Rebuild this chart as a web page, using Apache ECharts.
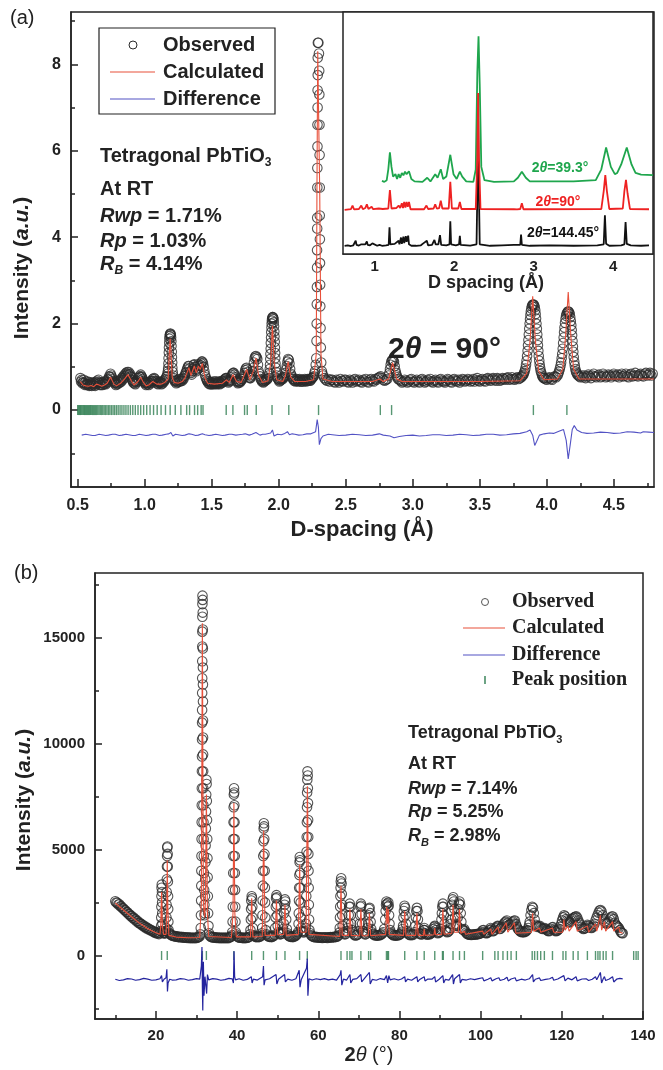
<!DOCTYPE html>
<html><head><meta charset="utf-8">
<script src="https://cdn.jsdelivr.net/npm/echarts@6.0.0/dist/echarts.min.js"></script>
<style>html,body{margin:0;padding:0;background:#fff}#c{width:663px;height:1070px}</style>
</head><body><div id="c"></div>
<script>
// ---------------- Panel (a): neutron, D-spacing ----------------
const obsA = [
[0.520,0.74],[0.525,0.66],[0.530,0.70],[0.535,0.62],[0.540,0.64],[0.545,0.70],[0.550,0.62],[0.555,0.58],[0.560,0.66],[0.565,0.60],
[0.570,0.58],[0.575,0.66],[0.580,0.60],[0.585,0.56],[0.590,0.64],[0.595,0.58],[0.600,0.62],[0.605,0.56],[0.610,0.60],[0.615,0.64],
[0.620,0.58],[0.625,0.62],[0.630,0.56],[0.635,0.64],[0.640,0.60],[0.645,0.68],[0.650,0.64],[0.655,0.70],[0.660,0.62],[0.665,0.58],
[0.670,0.64],[0.675,0.58],[0.680,0.62],[0.685,0.58],[0.690,0.64],[0.695,0.60],[0.700,0.66],[0.705,0.62],[0.710,0.60],[0.715,0.66],
[0.720,0.64],[0.725,0.72],[0.730,0.70],[0.735,0.78],[0.740,0.76],[0.745,0.84],[0.750,0.80],[0.755,0.76],[0.760,0.72],[0.765,0.68],
[0.770,0.66],[0.775,0.62],[0.780,0.64],[0.785,0.58],[0.790,0.62],[0.795,0.60],[0.800,0.66],[0.805,0.62],[0.810,0.68],[0.815,0.64],
[0.820,0.70],[0.825,0.66],[0.830,0.74],[0.835,0.70],[0.840,0.78],[0.845,0.74],[0.850,0.82],[0.855,0.78],[0.860,0.86],[0.865,0.82],
[0.870,0.88],[0.875,0.84],[0.880,0.88],[0.885,0.82],[0.890,0.84],[0.895,0.78],[0.900,0.76],[0.905,0.70],[0.910,0.68],[0.915,0.64],
[0.920,0.62],[0.925,0.66],[0.930,0.60],[0.935,0.64],[0.940,0.68],[0.945,0.66],[0.950,0.74],[0.955,0.70],[0.960,0.78],[0.965,0.76],
[0.970,0.82],[0.975,0.78],[0.980,0.76],[0.985,0.72],[0.990,0.68],[0.995,0.66],[1.000,0.62],[1.005,0.64],[1.010,0.58],[1.015,0.62],
[1.020,0.60],[1.025,0.64],[1.030,0.58],[1.035,0.62],[1.040,0.66],[1.045,0.62],[1.050,0.68],[1.055,0.66],[1.060,0.72],[1.065,0.68],
[1.070,0.74],[1.075,0.72],[1.080,0.68],[1.085,0.66],[1.090,0.62],[1.095,0.66],[1.100,0.60],[1.105,0.64],[1.110,0.62],[1.115,0.66],
[1.120,0.64],[1.125,0.60],[1.130,0.64],[1.135,0.62],[1.140,0.68],[1.145,0.66],[1.150,0.70],[1.155,0.72],[1.160,0.76],[1.165,0.78],
[1.170,0.84],
[1.173,0.90],[1.175,0.97],[1.177,1.08],[1.178,1.20],[1.180,1.33],[1.181,1.45],[1.183,1.56],[1.184,1.65],[1.186,1.71],[1.188,1.75],
[1.191,1.77],[1.193,1.76],[1.195,1.73],[1.197,1.68],[1.199,1.59],[1.200,1.48],[1.202,1.35],[1.203,1.22],[1.205,1.10],[1.206,0.98],
[1.209,0.88],[1.212,0.80],
[1.215,0.74],[1.220,0.70],[1.225,0.66],[1.230,0.68],[1.235,0.62],[1.240,0.66],[1.245,0.64],[1.250,0.70],[1.255,0.66],[1.260,0.72],
[1.265,0.66],[1.270,0.68],[1.275,0.72],[1.280,0.68],[1.285,0.74],[1.290,0.72],[1.295,0.78],[1.300,0.80],[1.305,0.86],[1.310,0.88],
[1.315,0.94],[1.320,0.98],[1.325,1.02],[1.330,1.02],[1.335,0.96],[1.340,0.90],[1.345,0.86],[1.350,0.82],[1.355,0.90],[1.360,0.96],
[1.365,1.04],[1.370,1.06],[1.375,1.00],[1.380,0.94],[1.385,0.90],[1.390,0.94],[1.395,1.02],[1.400,1.06],[1.405,1.02],[1.410,0.98],
[1.415,1.04],[1.420,1.08],[1.425,1.12],[1.430,1.12],[1.435,1.08],[1.440,1.00],[1.445,0.90],[1.450,0.82],[1.455,0.76],[1.460,0.72],
[1.465,0.68],[1.470,0.66],[1.475,0.62],[1.480,0.66],[1.485,0.60],[1.490,0.64],[1.495,0.60],[1.500,0.64],[1.505,0.60],[1.510,0.66],
[1.515,0.62],[1.520,0.60],[1.525,0.66],[1.530,0.62],[1.535,0.66],[1.540,0.60],[1.545,0.64],[1.550,0.62],[1.555,0.66],[1.560,0.60],
[1.565,0.64],[1.570,0.62],[1.575,0.68],[1.580,0.64],[1.585,0.68],[1.590,0.66],[1.595,0.70],[1.600,0.72],[1.605,0.74],[1.610,0.74],
[1.615,0.70],[1.620,0.68],[1.625,0.64],[1.630,0.66],[1.635,0.68],[1.640,0.70],[1.645,0.76],[1.650,0.80],[1.655,0.84],[1.660,0.86],
[1.665,0.86],[1.670,0.82],[1.675,0.76],[1.680,0.72],[1.685,0.68],[1.690,0.66],[1.695,0.62],[1.700,0.64],[1.705,0.66],[1.710,0.64],
[1.715,0.68],[1.720,0.68],[1.725,0.72],[1.730,0.72],[1.735,0.76],[1.740,0.80],[1.745,0.86],[1.750,0.92],[1.755,0.96],[1.760,0.98],
[1.765,0.94],[1.770,0.88],[1.775,0.82],[1.780,0.76],[1.785,0.74],[1.790,0.74],[1.795,0.78],[1.800,0.82],[1.805,0.90],[1.810,0.98],
[1.815,1.10],[1.820,1.20],[1.825,1.24],[1.830,1.25],[1.835,1.22],[1.840,1.18],[1.845,1.05],[1.850,0.90],[1.855,0.84],[1.860,0.78],
[1.865,0.72],[1.870,0.70],[1.875,0.66],[1.880,0.68],[1.885,0.64],[1.890,0.66],[1.895,0.70],[1.900,0.68],[1.905,0.72],[1.910,0.70],
[1.915,0.72],[1.920,0.74],[1.925,0.80],[1.930,0.86],
[1.933,0.95],[1.935,1.05],[1.937,1.18],[1.938,1.30],[1.940,1.42],[1.941,1.55],[1.943,1.68],[1.944,1.80],[1.946,1.91],[1.947,2.00],
[1.949,2.07],[1.951,2.12],[1.954,2.15],[1.956,2.15],[1.959,2.13],[1.961,2.10],[1.963,2.03],[1.965,1.94],[1.967,1.82],[1.968,1.70],
[1.970,1.58],[1.971,1.45],[1.973,1.32],[1.974,1.20],[1.976,1.08],[1.978,0.98],[1.981,0.88],
[1.985,0.80],[1.990,0.74],[1.995,0.72],[2.000,0.70],[2.005,0.66],[2.010,0.68],[2.015,0.72],[2.020,0.70],[2.025,0.74],[2.030,0.72],
[2.035,0.76],[2.040,0.76],[2.045,0.80],[2.050,0.86],[2.055,0.94],[2.060,1.02],[2.065,1.12],[2.070,1.18],[2.075,1.16],[2.080,1.08],
[2.085,0.95],[2.090,0.84],[2.095,0.80],[2.100,0.76],[2.105,0.72],[2.110,0.72],[2.115,0.68],[2.120,0.70],[2.125,0.66],[2.130,0.68],
[2.135,0.72],[2.140,0.70],[2.145,0.66],[2.150,0.68],[2.155,0.72],[2.160,0.70],[2.165,0.66],[2.170,0.66],[2.175,0.70],[2.180,0.70],
[2.185,0.66],[2.190,0.68],[2.195,0.72],[2.200,0.70],[2.205,0.66],[2.210,0.68],[2.215,0.72],[2.220,0.70],[2.225,0.68],[2.230,0.72],
[2.235,0.68],[2.240,0.70],[2.245,0.74],[2.250,0.74],[2.255,0.76],[2.260,0.78],[2.265,0.84],[2.270,0.90],
[2.276,1.05],[2.280,1.20],[2.282,1.60],[2.283,2.00],[2.284,2.45],[2.285,2.85],[2.286,3.30],[2.286,3.70],[2.287,4.20],[2.287,4.45],
[2.288,5.15],[2.288,5.60],[2.289,6.10],[2.289,6.60],[2.290,7.00],[2.290,7.40],[2.291,7.75],[2.291,8.15],[2.292,8.50],[2.296,8.50],
[2.300,8.25],[2.302,7.85],[2.303,7.30],[2.304,6.60],[2.305,5.90],[2.306,5.15],[2.306,4.50],[2.307,3.95],[2.308,3.40],[2.309,2.90],
[2.310,2.40],[2.312,1.90],[2.314,1.45],[2.317,1.10],[2.322,0.90],[2.326,0.84],
[2.33,0.80],[2.34,0.74],[2.35,0.70],[2.36,0.68],[2.37,0.72],[2.38,0.66],[2.39,0.70],[2.40,0.70],[2.41,0.66],[2.42,0.64],
[2.43,0.70],[2.44,0.68],[2.45,0.64],[2.46,0.72],[2.47,0.68],[2.48,0.66],[2.49,0.70],[2.50,0.70],[2.51,0.66],[2.52,0.64],
[2.53,0.70],[2.54,0.68],[2.55,0.64],[2.56,0.70],[2.57,0.72],[2.58,0.66],[2.59,0.68],[2.60,0.70],[2.61,0.66],[2.62,0.64],
[2.63,0.70],[2.64,0.68],[2.65,0.72],[2.66,0.66],[2.67,0.64],[2.68,0.70],[2.69,0.72],[2.70,0.68],[2.71,0.66],[2.72,0.72],
[2.73,0.70],[2.74,0.74],[2.75,0.76],[2.76,0.78],[2.77,0.74],[2.78,0.70],[2.79,0.68],[2.80,0.70],[2.81,0.72],
[2.820,0.80],[2.825,0.86],[2.830,0.95],[2.835,1.05],[2.840,1.12],[2.845,1.15],[2.850,1.16],[2.855,1.14],[2.860,1.12],[2.865,1.02],
[2.870,0.92],[2.875,0.86],[2.880,0.80],[2.885,0.76],[2.890,0.72],[2.900,0.70],
[2.91,0.68],[2.92,0.64],[2.93,0.66],[2.94,0.70],[2.95,0.68],[2.96,0.64],[2.97,0.66],[2.98,0.70],[2.99,0.72],[3.00,0.66],
[3.01,0.64],[3.02,0.68],[3.03,0.70],[3.04,0.66],[3.05,0.64],[3.06,0.70],[3.07,0.72],[3.08,0.68],[3.09,0.64],[3.10,0.66],
[3.11,0.70],[3.12,0.68],[3.13,0.72],[3.14,0.66],[3.15,0.64],[3.16,0.68],[3.17,0.70],[3.18,0.66],[3.19,0.64],[3.20,0.70],
[3.21,0.72],[3.22,0.68],[3.23,0.66],[3.24,0.64],[3.25,0.68],[3.26,0.72],[3.27,0.70],[3.28,0.66],[3.29,0.64],[3.30,0.70],
[3.31,0.72],[3.32,0.68],[3.33,0.66],[3.34,0.70],[3.35,0.64],[3.36,0.68],[3.37,0.72],[3.38,0.70],[3.39,0.66],[3.40,0.68],
[3.41,0.72],[3.42,0.70],[3.43,0.66],[3.44,0.68],[3.45,0.72],[3.46,0.66],[3.47,0.70],[3.48,0.74],[3.49,0.68],[3.50,0.66],
[3.51,0.70],[3.52,0.72],[3.53,0.68],[3.54,0.66],[3.55,0.72],[3.56,0.74],[3.57,0.70],[3.58,0.68],[3.59,0.72],[3.60,0.74],
[3.61,0.70],[3.62,0.68],[3.63,0.74],[3.64,0.72],[3.65,0.68],[3.66,0.70],[3.67,0.74],[3.68,0.72],[3.69,0.70],[3.70,0.74],
[3.71,0.76],[3.72,0.70],[3.73,0.72],[3.74,0.76],[3.75,0.72],[3.76,0.70],[3.77,0.74],[3.78,0.76],[3.79,0.72],[3.80,0.74],
[3.81,0.76],
[3.815,0.78],[3.820,0.80],[3.825,0.82],[3.830,0.86],[3.835,0.90],[3.840,0.96],[3.845,1.05],[3.849,1.14],[3.853,1.25],[3.857,1.37],
[3.860,1.50],[3.863,1.62],[3.866,1.75],[3.869,1.88],[3.872,2.00],[3.875,2.10],[3.878,2.20],[3.881,2.28],[3.885,2.35],[3.889,2.40],
[3.893,2.43],[3.897,2.44],[3.902,2.44],[3.906,2.42],[3.910,2.38],[3.914,2.31],[3.917,2.22],[3.920,2.12],[3.923,2.00],[3.926,1.88],
[3.929,1.75],[3.932,1.62],[3.934,1.50],[3.937,1.37],[3.940,1.25],[3.944,1.14],[3.947,1.05],[3.951,0.97],[3.955,0.90],[3.960,0.85],
[3.965,0.80],[3.970,0.77],[3.975,0.74],
[3.98,0.74],[3.99,0.72],[4.00,0.70],[4.01,0.74],[4.02,0.76],[4.03,0.72],[4.04,0.70],[4.05,0.76],[4.06,0.78],[4.07,0.76],
[4.08,0.80],
[4.085,0.84],[4.091,0.89],[4.097,0.95],[4.102,1.02],[4.107,1.10],[4.111,1.20],[4.115,1.30],[4.119,1.42],[4.122,1.55],[4.126,1.68],
[4.129,1.80],[4.132,1.91],[4.136,2.02],[4.140,2.11],[4.144,2.18],[4.148,2.23],[4.153,2.26],[4.158,2.28],[4.162,2.28],[4.167,2.26],
[4.171,2.22],[4.175,2.15],[4.179,2.06],[4.183,1.96],[4.186,1.85],[4.189,1.73],[4.192,1.60],[4.195,1.47],[4.198,1.35],[4.201,1.23],
[4.205,1.12],[4.209,1.03],[4.213,0.95],[4.218,0.89],[4.223,0.85],[4.229,0.82],[4.235,0.80],[4.242,0.78],[4.250,0.76],
[4.26,0.80],[4.27,0.76],[4.28,0.80],[4.29,0.74],[4.30,0.78],[4.31,0.82],[4.32,0.78],[4.33,0.74],[4.34,0.80],[4.35,0.84],
[4.36,0.78],[4.37,0.76],[4.38,0.80],[4.39,0.82],[4.40,0.76],[4.41,0.78],[4.42,0.84],[4.43,0.80],[4.44,0.76],[4.45,0.78],
[4.46,0.82],[4.47,0.80],[4.48,0.76],[4.49,0.80],[4.50,0.84],[4.51,0.80],[4.52,0.78],[4.53,0.82],[4.54,0.76],[4.55,0.80],
[4.56,0.84],[4.57,0.78],[4.58,0.80],[4.59,0.84],[4.60,0.78],[4.61,0.76],[4.62,0.82],[4.63,0.84],[4.64,0.78],[4.65,0.80],
[4.66,0.86],[4.67,0.80],[4.68,0.78],[4.69,0.82],[4.70,0.84],[4.71,0.80],[4.72,0.78],[4.73,0.84],[4.74,0.86],[4.75,0.80],
[4.76,0.82],[4.77,0.86],[4.78,0.80],[4.79,0.84]
];
const calcA = [
[0.52,0.66],[0.54,0.58],[0.56,0.56],[0.58,0.55],[0.60,0.57],[0.62,0.54],[0.64,0.60],[0.66,0.58],[0.68,0.55],[0.70,0.58],
[0.72,0.62],[0.745,0.76],[0.77,0.60],[0.79,0.56],[0.82,0.62],[0.85,0.72],[0.875,0.82],[0.90,0.68],[0.92,0.58],[0.95,0.66],
[0.97,0.76],[0.99,0.64],[1.01,0.56],[1.03,0.58],[1.06,0.66],[1.07,0.70],[1.09,0.60],[1.12,0.60],[1.15,0.64],[1.175,0.72],
[1.185,1.40],[1.19,1.65],[1.195,1.40],[1.205,0.76],[1.22,0.64],[1.25,0.62],[1.28,0.66],[1.30,0.74],[1.33,0.98],[1.345,0.80],
[1.37,1.02],[1.385,0.86],[1.40,1.02],[1.415,0.94],[1.43,1.08],[1.45,0.74],[1.47,0.62],[1.52,0.60],[1.58,0.62],[1.61,0.70],
[1.63,0.64],[1.66,0.82],[1.685,0.66],[1.72,0.64],[1.76,0.94],[1.785,0.70],[1.81,0.90],[1.83,1.20],[1.85,0.80],[1.88,0.64],
[1.92,0.68],[1.94,1.10],[1.953,1.95],[1.966,1.10],[1.985,0.70],[2.03,0.66],[2.05,0.80],[2.07,1.12],[2.09,0.76],[2.12,0.66],
[2.20,0.66],[2.26,0.70],[2.28,1.30],[2.285,5.0],[2.291,8.3],[2.300,8.3],[2.306,5.0],[2.315,1.30],[2.33,0.72],[2.40,0.66],
[2.70,0.66],[2.755,0.72],[2.78,0.66],[2.82,0.72],[2.85,1.10],[2.88,0.72],[2.92,0.66],[3.50,0.66],[3.80,0.68],[3.85,0.85],
[3.875,1.60],[3.895,2.63],[3.915,1.60],[3.94,0.90],[3.98,0.70],[4.08,0.72],[4.12,0.95],[4.14,1.70],[4.16,2.73],[4.18,1.70],
[4.20,0.95],[4.24,0.72],[4.80,0.72]
];
const diffA = [
[0.53,-0.58],[0.56,-0.56],[0.58,-0.57],[0.61,-0.59],[0.63,-0.59],[0.66,-0.56],[0.68,-0.57],[0.71,-0.59],[0.73,-0.58],[0.76,-0.56],
[0.78,-0.56],[0.81,-0.59],[0.83,-0.58],[0.86,-0.56],[0.88,-0.57],[0.91,-0.59],[0.93,-0.59],[0.96,-0.56],[0.98,-0.57],[1.01,-0.59],
[1.03,-0.58],[1.06,-0.56],[1.08,-0.56],[1.11,-0.59],[1.13,-0.58],[1.16,-0.56],[1.18,-0.55],[1.195,-0.52],[1.21,-0.60],[1.23,-0.56],
[1.25,-0.57],[1.28,-0.59],[1.30,-0.58],[1.33,-0.55],[1.35,-0.56],[1.38,-0.59],[1.40,-0.58],[1.43,-0.55],[1.45,-0.57],[1.48,-0.59],
[1.50,-0.58],[1.53,-0.56],[1.55,-0.57],[1.58,-0.59],[1.60,-0.58],[1.63,-0.56],[1.65,-0.56],[1.68,-0.58],[1.70,-0.57],[1.73,-0.56],
[1.75,-0.55],[1.78,-0.58],[1.80,-0.56],[1.83,-0.52],[1.86,-0.58],[1.88,-0.56],[1.90,-0.56],[1.94,-0.53],[1.953,-0.46],[1.965,-0.60],
[1.99,-0.56],[2.02,-0.57],[2.04,-0.55],[2.065,-0.50],[2.08,-0.57],[2.10,-0.55],[2.12,-0.56],[2.15,-0.58],[2.18,-0.57],[2.21,-0.55],
[2.24,-0.55],[2.275,-0.50],[2.287,-0.22],[2.296,-0.40],[2.303,-0.80],[2.315,-0.66],[2.33,-0.60],[2.37,-0.56],[2.40,-0.57],[2.45,-0.59],
[2.50,-0.58],[2.55,-0.56],[2.60,-0.57],[2.65,-0.59],[2.70,-0.58],[2.75,-0.55],[2.78,-0.58],[2.83,-0.60],[2.86,-0.64],[2.90,-0.61],
[2.95,-0.59],[3.00,-0.58],[3.05,-0.60],[3.10,-0.59],[3.15,-0.57],[3.20,-0.57],[3.25,-0.59],[3.30,-0.58],[3.35,-0.56],[3.40,-0.57],
[3.45,-0.59],[3.50,-0.58],[3.55,-0.56],[3.60,-0.56],[3.65,-0.58],[3.70,-0.57],[3.75,-0.55],[3.80,-0.54],[3.85,-0.50],[3.875,-0.46],
[3.895,-0.58],[3.91,-0.82],[3.925,-0.72],[3.945,-0.58],[3.98,-0.55],[4.02,-0.53],[4.05,-0.54],[4.10,-0.48],[4.125,-0.45],[4.145,-0.70],
[4.16,-1.13],[4.175,-0.80],[4.19,-0.45],[4.205,-0.36],[4.225,-0.46],[4.26,-0.52],[4.30,-0.54],[4.35,-0.53],[4.40,-0.51],[4.45,-0.52],
[4.50,-0.54],[4.55,-0.53],[4.60,-0.50],[4.65,-0.51],[4.70,-0.53],[4.72,-0.50],[4.76,-0.51],[4.80,-0.52]
];
const peaksA = [0.500,0.507,0.514,0.520,0.526,0.533,0.540,0.546,0.552,0.559,0.566,0.573,0.580,0.587,0.594,0.601,0.609,0.617,
0.625,0.633,0.641,0.650,0.659,0.668,0.677,0.687,0.697,0.707,0.718,0.729,0.740,0.752,0.764,0.776,0.789,0.802,0.816,0.830,0.845,
0.860,0.876,0.893,0.911,0.930,0.950,0.970,0.992,1.015,1.040,1.066,1.093,1.122,1.155,1.190,1.228,1.270,1.313,1.335,1.372,1.395,
1.421,1.435,1.608,1.658,1.745,1.765,1.832,1.950,2.075,2.297,2.758,2.842,3.900,4.150];
const xTicksA = [0.5,1.0,1.5,2.0,2.5,3.0,3.5,4.0,4.5];
const xMinorA = [0.75,1.25,1.75,2.25,2.75,3.25,3.75,4.25,4.75];
const yTicksA = [0,2,4,6,8];
const yMinorA = [-1,1,3,5,7,9];

// ---------------- Inset: three detector banks ----------------
const insetBlack = [
[0.62,0.34],[0.66,0.36],[0.70,0.33],[0.73,0.36],[0.75,0.42],[0.76,0.55],[0.77,0.38],[0.80,0.35],[0.83,0.40],[0.84,0.45],
[0.85,0.36],[0.88,0.40],[0.90,0.52],[0.91,0.38],[0.94,0.36],[0.97,0.44],[0.98,0.50],[0.99,0.36],[1.03,0.34],[1.06,0.38],
[1.09,0.34],[1.14,0.36],[1.175,0.38],[1.185,1.10],[1.195,0.40],[1.22,0.35],[1.25,0.42],[1.27,0.36],[1.30,0.55],[1.31,0.40],
[1.33,0.68],[1.34,0.42],[1.36,0.72],[1.37,0.45],[1.39,0.74],[1.40,0.50],[1.42,0.76],[1.43,0.40],[1.46,0.34],[1.52,0.34],
[1.58,0.36],[1.61,0.44],[1.62,0.36],[1.655,0.55],[1.67,0.36],[1.72,0.38],[1.75,0.58],[1.765,0.40],[1.80,0.40],[1.82,0.78],
[1.835,0.38],[1.90,0.36],[1.94,0.40],[1.95,1.35],[1.96,0.40],[2.02,0.36],[2.06,0.40],[2.07,0.75],[2.08,0.38],[2.20,0.35],
[2.28,0.40],[2.29,2.5],[2.30,5.5],[2.31,2.5],[2.32,0.40],[2.45,0.34],[2.60,0.36],[2.75,0.38],[2.76,0.45],[2.77,0.36],
[2.83,0.38],[2.84,0.80],[2.85,0.38],[2.95,0.34],[3.20,0.36],[3.50,0.34],[3.80,0.36],[3.88,0.40],[3.895,1.60],[3.91,0.42],
[3.95,0.34],[4.10,0.36],[4.14,0.40],[4.155,1.32],[4.17,0.42],[4.22,0.36],[4.35,0.34],[4.45,0.36]
];
const insetRed = [
[0.62,1.82],[0.70,1.85],[0.72,2.00],[0.74,1.84],[0.80,1.86],[0.83,2.00],[0.85,1.85],[0.88,1.90],[0.90,2.05],[0.92,1.86],
[0.96,1.95],[0.98,1.85],[1.05,1.88],[1.10,1.86],[1.17,1.88],[1.19,2.64],[1.21,1.88],[1.27,1.90],[1.30,2.00],[1.32,1.90],
[1.34,2.10],[1.355,1.90],[1.37,2.15],[1.385,1.92],[1.40,2.15],[1.415,1.95],[1.43,2.15],[1.45,1.85],[1.62,1.85],[1.65,2.00],
[1.67,1.86],[1.74,1.88],[1.76,2.05],[1.78,1.88],[1.81,1.90],[1.83,2.20],[1.85,1.88],[1.93,1.88],[1.95,2.98],[1.97,1.88],
[2.05,1.88],[2.07,2.15],[2.09,1.86],[2.27,1.86],[2.29,4.00],[2.30,6.65],[2.31,4.00],[2.33,1.86],[2.75,1.85],[2.77,1.90],
[2.79,1.84],[2.83,1.86],[2.85,2.10],[2.87,1.85],[3.85,1.86],[3.88,2.60],[3.90,3.26],[3.92,2.60],[3.95,1.86],[4.12,1.88],
[4.14,2.60],[4.16,3.06],[4.18,2.50],[4.21,1.86],[4.45,1.85]
];
const insetGreen = [
[1.09,3.02],[1.12,2.98],[1.15,3.05],[1.17,3.50],[1.19,4.20],[1.21,3.60],[1.23,3.20],[1.26,3.30],[1.28,3.10],[1.30,3.30],
[1.32,3.15],[1.34,3.35],[1.36,3.25],[1.38,3.40],[1.40,3.30],[1.43,3.42],[1.46,3.10],[1.50,3.00],[1.60,2.98],[1.66,3.15],
[1.70,3.00],[1.76,3.30],[1.79,3.15],[1.83,3.50],[1.86,3.10],[1.90,3.20],[1.95,4.10],[1.99,3.30],[2.03,3.10],[2.07,3.40],
[2.10,3.20],[2.15,3.00],[2.24,2.98],[2.27,3.50],[2.29,7.50],[2.305,9.00],[2.32,7.00],[2.34,3.60],[2.38,3.05],[2.50,2.98],
[2.75,3.00],[2.80,3.15],[2.85,3.40],[2.90,3.15],[2.95,3.00],[3.50,3.00],[3.78,3.05],[3.85,3.50],[3.91,4.40],[3.97,3.60],
[4.02,3.30],[4.05,3.35],[4.10,3.70],[4.17,4.40],[4.23,3.70],[4.28,3.35],[4.35,3.28],[4.50,3.26]
];
const xTicksIn = [1,2,3,4];
const xMinorIn = [1.5,2.5,3.5];

// ---------------- Panel (b): X-ray, 2theta ----------------
const obsB = [
[10.0,2560],[10.25,2500],[10.5,2490],[10.75,2410],[11.0,2420],[11.25,2330],[11.5,2320],[11.75,2240],[12.0,2220],[12.25,2150],
[12.5,2130],[12.75,2050],[13.0,2040],[13.25,1960],[13.5,1950],[13.75,1870],[14.0,1870],[14.25,1780],[14.5,1790],[14.75,1700],
[15.0,1710],[15.25,1620],[15.5,1630],[15.75,1540],[16.0,1550],[16.25,1480],[16.5,1480],[16.75,1410],[17.0,1420],[17.25,1340],
[17.5,1360],[17.75,1280],[18.0,1300],[18.25,1230],[18.5,1240],[18.75,1180],[19.0,1190],[19.25,1130],[19.5,1140],[19.75,1080],
[20.0,1100],[20.25,1040],[20.5,1070],[20.75,1010],[21.0,1060],[21.15,1150],
[21.3,1400],[21.32,1800],[21.35,2300],[21.37,2800],[21.40,3200],[21.45,3350],[21.5,3000],[21.53,2500],[21.56,2000],[21.6,1500],
[21.7,1150],[21.85,1080],[22.0,1040],[22.15,1070],[22.3,1050],[22.45,1150],
[22.55,1300],[22.6,1800],[22.63,2400],[22.66,3000],[22.7,3600],[22.73,4200],[22.76,4700],[22.8,5100],[22.85,5150],[22.9,4800],
[22.93,4200],[22.96,3500],[23.0,2800],[23.03,2200],[23.07,1600],[23.12,1200],
[23.25,1080],[23.5,1010],[23.75,970],[24.0,950],[24.25,920],[24.5,930],[24.75,900],[25.0,890],[25.25,910],[25.5,870],
[25.75,880],[26.0,860],[26.25,880],[26.5,850],[26.75,870],[27.0,840],[27.25,860],[27.5,850],[27.75,830],[28.0,860],
[28.25,840],[28.5,820],[28.75,850],[29.0,830],[29.25,840],[29.5,820],[29.75,850],[30.0,830],[30.25,850],[30.5,870],
[30.75,900],[30.95,1000],
[31.05,1300],[31.1,1900],[31.15,2600],[31.18,3300],[31.2,4000],[31.23,4700],[31.26,5500],[31.28,6300],[31.3,7100],[31.32,7900],
[31.34,8700],[31.36,9400],[31.37,10200],[31.38,11000],[31.39,11600],[31.40,12400],[31.41,13100],[31.42,13900],[31.43,14600],[31.44,15300],
[31.45,16000],[31.46,16600],[31.48,17000],[31.52,16800],[31.54,16200],[31.56,15400],[31.57,14500],[31.58,13600],[31.59,12800],[31.60,12000],
[31.61,11100],[31.62,10300],[31.63,9500],[31.65,8700],[31.67,7900],[31.70,7100],[31.73,6300],[31.76,5500],[31.8,4700],[31.85,3900],
[31.9,3100],[31.95,2400],[32.0,1900],[32.05,2000],[32.1,2800],[32.15,3600],[32.2,4400],[32.25,5200],[32.3,6000],[32.35,6800],
[32.4,7600],[32.45,8300],[32.5,8100],[32.55,7300],[32.6,6400],[32.65,5500],[32.7,4600],[32.75,3700],[32.8,2800],[32.87,2000],
[32.95,1400],[33.1,1050],
[33.25,940],[33.5,890],[33.75,870],[34.0,850],[34.25,870],[34.5,840],[34.75,860],[35.0,830],[35.25,850],[35.5,840],
[35.75,820],[36.0,850],[36.25,830],[36.5,840],[36.75,820],[37.0,850],[37.25,830],[37.5,840],[37.75,820],[38.0,850],
[38.25,860],[38.5,890],[38.7,960],
[38.8,1100],[38.9,1600],[38.95,2300],[39.0,3100],[39.05,3900],[39.08,4700],[39.1,5500],[39.13,6300],[39.16,7000],[39.2,7600],
[39.25,7900],[39.3,7700],[39.34,7100],[39.37,6300],[39.4,5500],[39.43,4700],[39.46,3900],[39.5,3100],[39.55,2300],[39.6,1600],
[39.7,1100],
[39.75,1000],[40.0,910],[40.25,870],[40.5,850],[40.75,840],[41.0,860],[41.25,830],[41.5,840],[41.75,820],[42.0,850],
[42.25,830],[42.5,840],[42.75,860],[43.0,880],[43.2,1000],
[43.3,1200],[43.4,1700],[43.45,2200],[43.5,2600],[43.6,2800],[43.7,2700],[43.75,2300],[43.8,1800],[43.9,1300],[44.1,950],
[44.25,920],[44.5,880],[44.75,870],[45.0,890],[45.25,870],[45.5,880],[45.75,910],[46.0,960],[46.1,1050],
[46.2,1300],[46.25,1900],[46.3,2600],[46.35,3300],[46.4,4000],[46.45,4700],[46.5,5400],[46.55,6000],[46.6,6250],[46.65,6100],
[46.7,5500],[46.75,4800],[46.8,4000],[46.85,3200],[46.9,2500],[46.95,1800],[47.05,1200],
[47.25,1000],[47.5,930],[47.75,900],[48.0,880],[48.25,890],[48.5,870],[48.75,900],[49.0,920],[49.2,980],
[49.4,1300],[49.5,1800],[49.55,2300],[49.6,2700],[49.7,2850],[49.8,2750],[49.85,2400],[49.9,1900],[50.0,1400],[50.2,1100],
[50.4,1050],[50.6,1000],[50.8,1020],[51.0,1050],[51.2,1120],[51.35,1250],
[51.5,1500],[51.6,2000],[51.7,2400],[51.8,2650],[51.9,2550],[52.0,2200],[52.1,1700],[52.25,1250],
[52.4,1050],[52.6,960],[52.8,920],[53.0,900],[53.25,880],[53.5,890],[53.75,870],[54.0,900],[54.25,910],[54.5,950],
[54.75,1000],[55.0,1100],
[55.15,1500],[55.2,2000],[55.25,2600],[55.3,3200],[55.35,3800],[55.4,4400],[55.45,4650],[55.5,4500],[55.55,3900],[55.6,3200],
[55.65,2500],[55.72,1800],[55.8,1300],[56.0,1150],[56.25,1100],[56.5,1100],[56.75,1150],[56.9,1300],
[56.95,1500],[57.0,2100],[57.05,2800],[57.08,3500],[57.1,4200],[57.13,4900],[57.16,5600],[57.2,6300],[57.23,7000],[57.26,7700],
[57.3,8300],[57.35,8700],[57.4,8500],[57.44,7900],[57.47,7200],[57.5,6400],[57.53,5600],[57.56,4800],[57.6,4000],[57.64,3200],
[57.68,2400],[57.74,1700],[57.82,1200],
[58.0,1050],[58.25,960],[58.5,920],[58.75,890],[59.0,870],[59.25,860],[59.5,880],[59.75,850],[60.0,860],[60.25,840],
[60.5,860],[60.75,850],[61.0,830],[61.25,860],[61.5,840],[61.75,860],[62.0,850],[62.25,830],[62.5,860],[62.75,850],
[63.0,870],[63.25,850],[63.5,860],[63.75,880],[64.0,860],[64.25,880],[64.5,890],[64.75,910],[65.0,960],[65.2,1080],
[65.3,1300],[65.35,1800],[65.4,2300],[65.45,2800],[65.5,3200],[65.55,3500],[65.65,3650],[65.75,3400],[65.8,2900],[65.85,2400],
[65.9,1900],[66.0,1400],[66.2,1100],[66.35,1050],[66.5,1000],[66.75,1020],[67.0,1150],[67.25,1300],
[67.4,1500],[67.5,1900],[67.6,2300],[67.75,2450],[67.9,2300],[68.0,1900],[68.1,1500],[68.3,1200],
[68.5,1100],[68.75,1000],[69.0,960],[69.25,950],[69.5,970],[69.75,1000],[70.0,1150],
[70.2,1500],[70.3,1900],[70.4,2300],[70.5,2450],[70.6,2350],[70.7,1950],[70.8,1500],[71.0,1150],
[71.25,1050],[71.5,1000],[71.75,1010],[72.0,1100],[72.15,1300],
[72.3,1500],[72.4,1900],[72.5,2200],[72.65,2250],[72.8,2000],[72.9,1600],[73.05,1250],
[73.25,1100],[73.5,1020],[73.75,980],[74.0,950],[74.25,960],[74.5,940],[74.75,960],[75.0,950],[75.25,980],[75.5,990],
[75.75,1040],[76.0,1100],[76.25,1250],
[76.5,1700],[76.6,2100],[76.7,2400],[76.8,2550],[76.95,2450],[77.1,2300],[77.25,2500],[77.35,2350],[77.45,1900],[77.55,1500],
[77.7,1200],[77.9,1080],[78.1,1010],[78.35,980],[78.6,950],[78.85,960],[79.1,940],[79.35,960],[79.6,950],[79.85,980],
[80.1,990],[80.35,1040],[80.6,1120],[80.8,1250],
[80.9,1400],[81.0,1800],[81.1,2100],[81.25,2350],[81.4,2250],[81.5,1900],[81.6,1500],[81.8,1150],
[82.0,1060],[82.25,1000],[82.5,980],[82.75,960],[83.0,990],[83.25,970],[83.5,1010],[83.75,1100],
[83.95,1400],[84.05,1800],[84.15,2100],[84.3,2250],[84.45,2100],[84.55,1700],[84.7,1300],[84.9,1050],
[85.1,1020],[85.35,990],[85.6,1010],[85.85,1080],[86.0,1200],[86.1,1300],[86.2,1200],[86.4,1050],[86.6,1000],[86.85,990],
[87.1,1010],[87.35,990],[87.6,1030],[87.85,1060],[88.1,1120],[88.35,1250],[88.55,1350],[88.7,1400],[88.85,1300],[89.0,1200],
[89.2,1100],[89.45,1050],[89.7,1080],[89.95,1120],[90.15,1250],
[90.35,1700],[90.45,2000],[90.55,2300],[90.7,2450],[90.85,2300],[90.95,1900],[91.1,1500],[91.3,1200],
[91.5,1150],[91.75,1100],[92.0,1120],[92.25,1180],[92.5,1300],[92.65,1500],
[92.75,1700],[92.85,2100],[92.95,2400],[93.1,2650],[93.25,2750],[93.4,2550],[93.55,2200],[93.7,1800],[93.85,1500],
[94.0,1450],[94.1,1400],
[94.2,1400],[94.35,1800],[94.5,2200],[94.65,2450],[94.8,2550],[94.95,2400],[95.1,2000],[95.25,1600],[95.45,1250],
[95.7,1200],[95.95,1250],[96.2,1150],[96.45,1080],[96.7,1020],[96.95,1000],[97.2,980],[97.45,990],[97.7,970],[97.95,990],
[98.2,980],[98.45,1000],[98.7,990],[98.95,1010],[99.2,1000],[99.45,1020],[99.7,1030],[99.95,1050],[100.2,1100],[100.45,1180],
[100.7,1200],[100.95,1100],[101.2,1060],[101.45,1050],[101.7,1070],[101.95,1120],[102.2,1200],[102.45,1300],[102.7,1250],[102.95,1150],
[103.2,1160],[103.45,1220],[103.7,1300],[103.95,1360],[104.2,1400],[104.45,1380],[104.7,1250],[104.95,1280],[105.2,1350],[105.45,1420],
[105.7,1500],[105.95,1560],[106.2,1600],[106.45,1650],[106.7,1550],[106.95,1450],[107.2,1460],[107.45,1500],[107.7,1560],[107.95,1600],
[108.2,1640],[108.45,1650],[108.7,1480],[108.95,1350],[109.2,1250],[109.45,1200],[109.7,1150],[109.95,1120],[110.2,1100],[110.45,1110],
[110.7,1100],[110.95,1130],[111.2,1150],[111.45,1200],[111.7,1300],[111.95,1450],
[112.1,1600],[112.3,1900],[112.5,2150],[112.7,2300],[112.9,2250],[113.1,2000],[113.3,1700],[113.6,1450],
[113.8,1400],[114.05,1350],[114.3,1380],[114.55,1400],[114.8,1320],[115.05,1280],[115.3,1250],[115.55,1270],[115.8,1300],[116.05,1250],
[116.3,1200],[116.55,1170],[116.8,1150],[117.05,1180],[117.3,1250],[117.55,1320],[117.8,1340],[118.05,1220],[118.3,1180],[118.55,1150],
[118.8,1170],[119.05,1200],[119.3,1260],[119.55,1350],[119.8,1480],[120.05,1650],[120.3,1800],[120.55,1900],[120.8,1850],[121.05,1720],
[121.3,1650],[121.55,1600],[121.8,1560],[122.05,1580],[122.3,1650],[122.55,1720],[122.8,1770],[123.05,1800],[123.3,1830],[123.55,1850],
[123.8,1780],[124.05,1650],[124.3,1550],[124.55,1450],[124.8,1350],[125.05,1300],[125.3,1250],[125.55,1270],[125.8,1300],[126.05,1380],
[126.3,1450],[126.55,1420],[126.8,1380],[127.05,1320],[127.3,1300],[127.55,1340],[127.8,1420],[128.05,1500],[128.3,1650],[128.55,1780],
[128.8,1900],[129.05,2020],[129.3,2120],[129.55,2150],[129.8,2080],[130.05,1900],[130.3,1720],[130.55,1600],[130.8,1540],[131.05,1500],
[131.3,1540],[131.55,1600],[131.8,1700],[132.05,1790],[132.3,1840],[132.55,1840],[132.8,1720],[133.05,1550],[133.3,1450],[133.55,1400],
[133.8,1350],[134.05,1300],[134.3,1200],[134.55,1100],[134.8,1060],[135.0,1050]
];
const calcB = [
[10,2480],[12,2150],[14,1830],[16,1520],[18,1260],[20,1080],[21.0,1000],[21.2,1400],[21.4,3000],[21.6,1400],
[21.9,1000],[22.5,1000],[22.7,2200],[22.8,4500],[22.95,2200],[23.2,950],[25,870],[28,840],[30.8,850],[31.2,2500],
[31.45,15700],[31.7,2500],[32.0,1800],[32.2,2500],[32.44,7600],[32.7,2000],[33.0,900],[38.6,850],[39.0,2000],[39.22,7200],
[39.45,2000],[39.8,880],[43.3,880],[43.6,2700],[43.9,880],[46.2,900],[46.55,5900],[46.9,950],[49.4,950],[49.7,2600],
[50.0,980],[51.5,1000],[51.8,2400],[52.1,950],[55.1,1000],[55.42,4300],[55.7,1100],[57.0,1100],[57.33,8000],[57.7,1000],
[65.3,900],[65.6,3300],[65.9,950],[67.5,950],[67.8,2200],[68.1,950],[70.2,930],[70.5,2200],[70.8,930],[72.3,930],
[72.6,2000],[72.9,930],[76.6,1000],[76.85,2300],[77.05,1500],[77.25,2200],[77.5,1000],[81.0,950],[81.3,2100],[81.6,950],
[84.0,950],[84.3,2000],[84.6,950],[85.9,950],[86.1,1250],[86.3,950],[88.5,980],[88.7,1300],[88.9,980],[90.4,1000],
[90.7,2200],[91.0,1000],[92.9,1050],[93.2,2400],[93.5,1100],[94.5,1100],[94.8,2200],[95.1,1050],[96.0,1150],[96.3,1000],
[100.5,1150],[100.8,1000],[102.5,1250],[102.8,1000],[104.3,1350],[104.6,1050],[106.3,1550],[106.7,1100],[108.3,1550],[108.7,1050],
[112.5,1100],[112.8,2000],[113.1,1150],[114.5,1300],[114.8,1100],[117.7,1300],[118.0,1100],[120.2,1100],[120.5,1700],[120.8,1200],
[121.5,1400],[121.8,1150],[123.5,1600],[123.8,1150],[126.3,1400],[126.6,1100],[128.3,1500],[128.6,1150],[129.5,1900],[129.8,1200],
[130.5,1600],[130.8,1150],[132.5,1600],[132.8,1150],[134.0,1350],[134.3,1100],[135,1050]
];
const diffB = [
[10,-1120],[11,-1180],[12,-1150],[13,-1090],[14,-1110],[15,-1170],[16,-1140],[17,-1080],[18,-1120],[19,-1170],
[20,-1150],[21.0,-1100],[21.4,-950],[21.6,-1250],[22.0,-1120],[22.5,-1050],[22.7,-650],[22.85,-1700],[23.0,-1300],[23.4,-1120],
[24,-1160],[25,-1150],[26,-1090],[27,-1110],[28,-1170],[29,-1140],[30,-1090],[30.8,-1120],[31.2,-500],[31.35,400],
[31.45,-1500],[31.55,-2600],[31.7,-300],[31.85,-1900],[32.1,-1000],[32.3,-1400],[32.5,-1800],[32.7,-900],[33.0,-1150],[34,-1090],
[35,-1120],[36,-1170],[37,-1140],[38,-1080],[38.8,-1100],[39.1,-1300],[39.25,200],[39.4,-1000],[39.6,-1150],[40.5,-1100],
[41.5,-1170],[42.5,-1130],[43.5,-1000],[43.7,-1300],[44,-1120],[45,-1160],[46.3,-1000],[46.5,-500],[46.65,-1400],[46.9,-1150],
[48,-1100],[49.6,-900],[49.8,-1350],[50.2,-1120],[51.7,-900],[51.9,-1250],[52.5,-1120],[53.5,-1170],[54.5,-1100],[55.3,-700],
[55.5,-1500],[55.8,-1150],[57.1,-600],[57.3,-150],[57.45,-1900],[57.7,-1100],[58.5,-1160],[59.5,-1100],[60.5,-1140],[61.5,-1090],
[62.5,-1150],[63.5,-1120],[64.5,-1160],[65.4,-900],[65.6,-700],[65.8,-1400],[66.2,-1120],[67,-1160],[67.8,-900],[68.0,-1300],
[68.5,-1130],[69.5,-1090],[70.5,-900],[70.7,-1250],[71.2,-1130],[72.6,-800],[72.8,-1350],[73.3,-1130],[74.3,-1170],[75.3,-1090],
[76.3,-1140],[76.8,-950],[77.1,-1300],[77.4,-950],[77.7,-1150],[78.7,-1100],[79.7,-1160],[80.5,-1110],[81.3,-1000],[81.5,-1250],
[82,-1120],[83,-1170],[84.3,-1000],[84.5,-1250],[85,-1130],[86.1,-1000],[86.3,-1200],[87,-1110],[88,-1120],[88.7,-1000],
[88.9,-1250],[89.8,-1120],[90.7,-950],[90.9,-1300],[91.3,-1130],[92.2,-1160],[93.1,-900],[93.3,-1350],[93.6,-1100],[94.8,-900],
[95.0,-1300],[95.4,-1130],[96.5,-1160],[97.5,-1100],[98.5,-1140],[99.5,-1090],[100.5,-1050],[100.8,-1200],[101.8,-1120],[102.5,-1050],
[102.8,-1200],[103.8,-1100],[104.5,-1050],[104.8,-1180],[105.8,-1120],[106.5,-1030],[106.8,-1200],[107.5,-1110],[108.5,-1050],[108.8,-1200],
[110,-1120],[111,-1160],[112,-1100],[112.8,-900],[113.0,-1250],[113.5,-1120],[114.5,-1060],[114.8,-1180],[116,-1130],[117,-1100],
[117.7,-1030],[118,-1170],[119,-1110],[120.5,-950],[120.8,-1200],[121.5,-1070],[122.5,-1150],[123.5,-1000],[123.8,-1200],[125,-1110],
[126,-1100],[126.3,-1020],[126.6,-1180],[127.5,-1120],[128.3,-1000],[128.6,-1150],[129.5,-800],[129.8,-1300],[130.2,-1100],[130.5,-1000],
[130.8,-1180],[131.7,-1110],[132.5,-1000],[132.8,-1250],[133.5,-1120],[134.3,-1080],[135,-1100]
];
const peaksB = [21.4,22.8,31.45,32.44,39.2,43.6,46.5,49.7,51.8,55.4,57.3,65.6,67.1,67.8,68.3,70.5,72.4,72.9,76.8,77.1,
77.3,81.3,84.3,86.1,88.7,90.6,90.8,93.2,94.8,96.0,100.5,103.5,104.3,105.5,106.6,107.5,108.8,112.7,113.3,114.0,
114.8,115.7,117.7,120.3,121.0,122.8,124.0,126.3,128.3,128.9,129.4,130.2,130.9,132.5,137.7,138.3,138.8];
const xTicksB = [20,40,60,80,100,120,140];
const xMinorB = [10,30,50,70,90,110,130];
const yTicksB = [0,5000,10000,15000];
const yMinorB = [-2500,2500,7500,12500,17500];

// ---------------- rendering ----------------
const FS = '"Liberation Sans", Arial, Helvetica, sans-serif';
const FSERIF = '"Liberation Serif", "Times New Roman", serif';
const INK = '#222';
const C_OBS = '#2a2a2a', C_CALC = '#e8503a', C_DIFF = '#5252c4', C_DIFF_B = '#24249e', C_TICK = '#2e7d50';

const mctx = document.createElement('canvas').getContext('2d');
function tw(t, size, weight, style, fam) {
  mctx.font = (style || 'normal') + ' ' + (weight || 'normal') + ' ' + size + 'px ' + fam;
  return mctx.measureText(t).width;
}
// parts: [text, size, weight, style, dy, family, color]
function runs(x, y, parts, align) {
  const w = parts.map(p => tw(p[0], p[1], p[2], p[3], p[5] || FS));
  const total = w.reduce((a, b) => a + b, 0);
  let cx = align === 'center' ? x - total / 2 : x;
  return parts.map((p, i) => {
    const el = {type: 'text', x: cx, y: y + (p[4] || 0), silent: true, z: 100,
      style: {text: p[0], fontSize: p[1], fontWeight: p[2] || 'normal', fontStyle: p[3] || 'normal',
        fontFamily: p[5] || FS, fill: p[6] || INK, align: 'left', verticalAlign: 'middle'}};
    cx += w[i];
    return el;
  });
}
function txt(x, y, t, size, weight, opts) {
  opts = opts || {};
  return {type: 'text', x: x, y: y, rotation: opts.rot || 0, silent: true, z: 100,
    style: {text: t, fontSize: size, fontWeight: weight || 'normal', fontFamily: opts.fam || FS,
      fill: opts.color || INK, align: opts.align || 'left', verticalAlign: 'middle'}};
}

function mainX(grid, min, max, ticks, labels, fmt, fs, margin, len) {
  return {type: 'value', gridIndex: grid, min: min, max: max, position: 'bottom',
    axisLine: {show: true, onZero: false, lineStyle: {color: INK, width: 1.5}},
    axisTick: {show: true, inside: true, length: len, customValues: ticks, lineStyle: {color: INK, width: 1.5}},
    axisLabel: {show: true, customValues: labels, formatter: fmt, margin: margin, color: INK, fontSize: fs,
      fontWeight: 'bold', fontFamily: FS, showMinLabel: true, showMaxLabel: true},
    splitLine: {show: false}};
}
function mainY(grid, min, max, ticks, labels, fmt, fs, margin, len) {
  return {type: 'value', gridIndex: grid, min: min, max: max, position: 'left',
    axisLine: {show: true, onZero: false, lineStyle: {color: INK, width: 1.5}},
    axisTick: {show: true, inside: true, length: len, customValues: ticks, lineStyle: {color: INK, width: 1.5}},
    axisLabel: {show: true, customValues: labels, formatter: fmt, margin: margin, color: INK, fontSize: fs,
      fontWeight: 'bold', fontFamily: FS, showMinLabel: true, showMaxLabel: true},
    splitLine: {show: false}};
}
function minorAxis(kind, grid, min, max, ticks, len) {
  return {type: 'value', gridIndex: grid, min: min, max: max, position: kind === 'x' ? 'bottom' : 'left',
    axisLine: {show: false, onZero: false}, axisLabel: {show: false}, splitLine: {show: false},
    axisTick: {show: true, inside: true, length: len, customValues: ticks, lineStyle: {color: INK, width: 1.5}}};
}

const A_XMIN = 0.45, A_XMAX = 4.8, A_YMIN = -1.78, A_YMAX = 9.21;
const I_XMIN = 0.6, I_XMAX = 4.5, I_YMIN = 0, I_YMAX = 10;
const B_XMIN = 5, B_XMAX = 140, B_YMIN = -3000, B_YMAX = 18070;

const xAxes = [
  mainX(0, A_XMIN, A_XMAX, xTicksA, xTicksA, v => v.toFixed(1), 16, 11, 8),
  minorAxis('x', 0, A_XMIN, A_XMAX, xMinorA, 4),
  mainX(1, I_XMIN, I_XMAX, xTicksIn, xTicksIn, v => String(v), 15, 5, 5),
  minorAxis('x', 1, I_XMIN, I_XMAX, xMinorIn, 3),
  mainX(2, B_XMIN, B_XMAX, xTicksB, xTicksB, v => String(v), 15, 9, 8),
  minorAxis('x', 2, B_XMIN, B_XMAX, xMinorB, 4)
];
const yAxes = [
  mainY(0, A_YMIN, A_YMAX, yTicksA, yTicksA, v => String(v), 16, 10, 7),
  minorAxis('y', 0, A_YMIN, A_YMAX, yMinorA, 4),
  {type: 'value', gridIndex: 1, min: I_YMIN, max: I_YMAX, axisLine: {show: false, onZero: false}, axisTick: {show: false},
    axisLabel: {show: false}, splitLine: {show: false}},
  mainY(2, B_YMIN, B_YMAX, yTicksB, yTicksB, v => String(v), 15, 10, 7),
  minorAxis('y', 2, B_YMIN, B_YMAX, yMinorB, 4)
];

function scatterObs(data, xi, yi) {
  return {type: 'scatter', xAxisIndex: xi, yAxisIndex: yi, data: data, symbol: 'circle', symbolSize: 9.5,
    itemStyle: {color: 'rgba(255,255,255,0)', borderColor: C_OBS, borderWidth: 1.1}, silent: true, z: 2};
}
function lineS(data, xi, yi, color, width, z) {
  return {type: 'line', xAxisIndex: xi, yAxisIndex: yi, data: data, symbol: 'none', showSymbol: false,
    lineStyle: {color: color, width: width}, silent: true, z: z || 3};
}
function tickS(list, xi, yi, h) {
  return {type: 'scatter', xAxisIndex: xi, yAxisIndex: yi, data: list.map(d => [d, 0]), symbol: 'rect',
    symbolSize: [1.4, h], itemStyle: {color: C_TICK}, silent: true, z: 2};
}

const series = [
  scatterObs(obsA, 0, 0),
  lineS(calcA, 0, 0, C_CALC, 1.1, 4),
  lineS(diffA, 0, 0, C_DIFF, 1.1, 3),
  tickS(peaksA, 0, 0, 10),
  lineS(insetBlack, 2, 2, '#111', 1.8, 5),
  lineS(insetGreen, 2, 2, '#1fa64d', 1.8, 6),
  lineS(insetRed, 2, 2, '#ee2222', 1.8, 7),
  scatterObs(obsB, 4, 3),
  lineS(calcB, 4, 3, C_CALC, 1.1, 4),
  lineS(diffB, 4, 3, C_DIFF_B, 1.2, 3),
  tickS(peaksB, 4, 3, 9)
];

// ----- texts and legends -----
const g = [];
g.push(txt(10, 18, '(a)', 20, 'normal'));
g.push(txt(14, 573, '(b)', 20, 'normal'));
// Legend (a)
g.push({type: 'rect', shape: {x: 99, y: 28, width: 176, height: 86}, style: {fill: '#fff', stroke: INK, lineWidth: 1.2}, z: 90, silent: true});
g.push({type: 'circle', shape: {cx: 133, cy: 45, r: 4}, style: {fill: 'none', stroke: C_OBS, lineWidth: 1}, z: 95, silent: true});
g.push({type: 'line', shape: {x1: 110, y1: 72, x2: 155, y2: 72}, style: {stroke: C_CALC, lineWidth: 1.2}, z: 95, silent: true});
g.push({type: 'line', shape: {x1: 110, y1: 99, x2: 155, y2: 99}, style: {stroke: C_DIFF, lineWidth: 1.2}, z: 95, silent: true});
g.push(txt(163, 45, 'Observed', 20, 'bold'));
g.push(txt(163, 72, 'Calculated', 20, 'bold'));
g.push(txt(163, 99, 'Difference', 20, 'bold'));
// Annotation (a)
g.push(...runs(100, 156, [['Tetragonal PbTiO', 20, 'bold'], ['3', 12, 'bold', 'normal', 7]]));
g.push(txt(100, 189, 'At RT', 20, 'bold'));
g.push(...runs(100, 216, [['Rwp', 20, 'bold', 'italic'], [' = 1.71%', 20, 'bold']]));
g.push(...runs(100, 241, [['Rp', 20, 'bold', 'italic'], [' = 1.03%', 20, 'bold']]));
g.push(...runs(100, 264, [['R', 20, 'bold', 'italic'], ['B', 12, 'bold', 'italic', 7], [' = 4.14%', 20, 'bold']]));
g.push(...runs(388, 350, [['2', 30, 'bold'], ['θ', 30, 'bold', 'italic'], [' = 90°', 30, 'bold']]));
// Inset labels
g.push(...runs(560, 168, [['2', 14, 'bold', 'normal', 0, FS, '#1fa64d'], ['θ', 14, 'bold', 'italic', 0, FS, '#1fa64d'], ['=39.3°', 14, 'bold', 'normal', 0, FS, '#1fa64d']], 'center'));
g.push(...runs(558, 202, [['2', 14, 'bold', 'normal', 0, FS, '#ee2222'], ['θ', 14, 'bold', 'italic', 0, FS, '#ee2222'], ['=90°', 14, 'bold', 'normal', 0, FS, '#ee2222']], 'center'));
g.push(...runs(563, 233, [['2', 14, 'bold', 'normal', 0, FS, '#111'], ['θ', 14, 'bold', 'italic', 0, FS, '#111'], ['=144.45°', 14, 'bold', 'normal', 0, FS, '#111']], 'center'));
g.push(txt(486, 283, 'D spacing (Å)', 18, 'bold', {align: 'center'}));
// Axis titles (a)
g.push(txt(362, 530, 'D-spacing (Å)', 22, 'bold', {align: 'center'}));
const richI = {a: {fontSize: 21, fontWeight: 'bold', fontFamily: FS, fill: INK}, i: {fontSize: 21, fontWeight: 'bold', fontStyle: 'italic', fontFamily: FS, fill: INK}};
g.push({type: 'text', x: 22, y: 268, rotation: Math.PI / 2, silent: true, z: 100,
  style: {text: '{a|Intensity (}{i|a.u.}{a|)}', rich: richI, align: 'center', verticalAlign: 'middle'}});
// Panel (b) legend
g.push({type: 'circle', shape: {cx: 485, cy: 602, r: 3.5}, style: {fill: 'none', stroke: '#555', lineWidth: 1}, z: 95, silent: true});
g.push({type: 'line', shape: {x1: 463, y1: 628, x2: 505, y2: 628}, style: {stroke: C_CALC, lineWidth: 1.2}, z: 95, silent: true});
g.push({type: 'line', shape: {x1: 463, y1: 655, x2: 505, y2: 655}, style: {stroke: C_DIFF, lineWidth: 1.2}, z: 95, silent: true});
g.push({type: 'line', shape: {x1: 485, y1: 676, x2: 485, y2: 684}, style: {stroke: C_TICK, lineWidth: 1.4}, z: 95, silent: true});
g.push(txt(512, 602, 'Observed', 20, 'bold', {fam: FSERIF}));
g.push(txt(512, 628, 'Calculated', 20, 'bold', {fam: FSERIF}));
g.push(txt(512, 655, 'Difference', 20, 'bold', {fam: FSERIF}));
g.push(txt(512, 680, 'Peak position', 20, 'bold', {fam: FSERIF}));
// Annotation (b)
g.push(...runs(408, 733, [['Tetragonal PbTiO', 18, 'bold'], ['3', 11, 'bold', 'normal', 7]]));
g.push(txt(408, 764, 'At RT', 18, 'bold'));
g.push(...runs(408, 789, [['Rwp', 18, 'bold', 'italic'], [' = 7.14%', 18, 'bold']]));
g.push(...runs(408, 812, [['Rp', 18, 'bold', 'italic'], [' = 5.25%', 18, 'bold']]));
g.push(...runs(408, 836, [['R', 18, 'bold', 'italic'], ['B', 11, 'bold', 'italic', 7], [' = 2.98%', 18, 'bold']]));
// Axis titles (b)
g.push(...runs(369, 1055, [['2', 20, 'bold'], ['θ', 20, 'normal', 'italic'], [' (°)', 20, 'normal']], 'center'));
g.push({type: 'text', x: 24, y: 800, rotation: Math.PI / 2, silent: true, z: 100,
  style: {text: '{a|Intensity (}{i|a.u.}{a|)}', rich: richI, align: 'center', verticalAlign: 'middle'}});

const chart = echarts.init(document.getElementById('c'), null, {renderer: 'canvas'});
chart.setOption({
  animation: false,
  backgroundColor: '#fff',
  textStyle: {fontFamily: FS},
  grid: [
    {left: 71, top: 12, width: 583, height: 475, show: true, borderColor: INK, borderWidth: 1.5, backgroundColor: 'rgba(0,0,0,0)', containLabel: false},
    {left: 343, top: 12, width: 310, height: 242, show: true, borderColor: INK, borderWidth: 1.5, backgroundColor: '#fff', containLabel: false, z: 1},
    {left: 95, top: 573, width: 548, height: 446, show: true, borderColor: INK, borderWidth: 1.5, backgroundColor: 'rgba(0,0,0,0)', containLabel: false}
  ],
  xAxis: xAxes,
  yAxis: yAxes,
  series: series,
  graphic: {elements: g}
});
</script></body></html>
